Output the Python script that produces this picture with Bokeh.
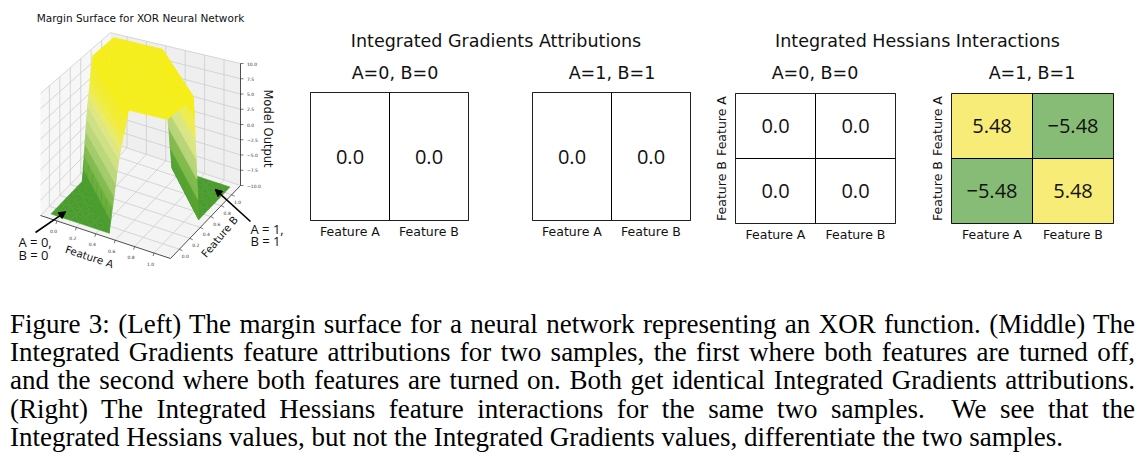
import numpy as np
from bokeh.plotting import figure
from bokeh.models import (ColumnDataSource, Range1d, FactorRange, Div, Arrow,
                          NormalHead, LinearColorMapper)
from bokeh.layouts import row, column
from bokeh.transform import transform
from bokeh.core.properties import value
from bokeh.embed import file_html
from bokeh.resources import INLINE

# ---------------------------------------------------------------- data
# margin surface of the XOR network
grid_a = [-0.1, 0.0, 0.1, 0.2, 0.3, 0.4, 0.5, 0.6, 0.7, 0.8, 0.9, 1.0, 1.1]
grid_b = [-0.1, 0.0, 0.1, 0.2, 0.3, 0.4, 0.5, 0.6, 0.7, 0.8, 0.9, 1.0, 1.1]
margin_z = [
    [-10, -10, -10, -10, -10, -10, -10,   2,  10,  10,  10,  10,  10],
    [-10, -10, -10, -10, -10, -10,   2,  10,  10,  10,  10,  10,  10],
    [-10, -10, -10, -10, -10,   2,  10,  10,  10,  10,  10,  10,  10],
    [-10, -10, -10, -10,   2,  10,  10,  10,  10,  10,  10,  10,  10],
    [-10, -10, -10,   2,  10,  10,  10,  10,  10,  10,  10,  10,  10],
    [-10, -10,   2,  10,  10,  10,  10,  10,  10,  10,  10,  10,  10],
    [-10,   2,  10,  10,  10,  10,  10,  10,  10,  10,  10,  10, -10],
    [  2,  10,  10,  10,  10,  10,  10,  10,  10,  10,  10, -10, -10],
    [ 10,  10,  10,  10,  10,  10,  10,  10,  10,  10, -10, -10, -10],
    [ 10,  10,  10,  10,  10,  10,  10,  10,  10, -10, -10, -10, -10],
    [ 10,  10,  10,  10,  10,  10,  10,  10, -10, -10, -10, -10, -10],
    [ 10,  10,  10,  10,  10,  10,  10, -10, -10, -10, -10, -10, -10],
    [ 10,  10,  10,  10,  10,  10, -10, -10, -10, -10, -10, -10, -10],
]
ab_ticks = [0.0, 0.2, 0.4, 0.6, 0.8, 1.0]
ab_tick_labels = ["0.0", "0.2", "0.4", "0.6", "0.8", "1.0"]
z_ticks = [-10.0, -7.5, -5.0, -2.5, 0.0, 2.5, 5.0, 7.5, 10.0]
z_tick_labels = ["\u221210.0", "\u22127.5", "\u22125.0", "\u22122.5", "0.0",
                 "2.5", "5.0", "7.5", "10.0"]
corner_00 = (0.0, 0.0, -10.0)
corner_11 = (1.0, 1.0, -10.0)

features = ["Feature A", "Feature B"]
ig_a0b0 = [0.0, 0.0]
ig_a1b1 = [0.0, 0.0]
ih_a0b0 = [[0.0, 0.0], [0.0, 0.0]]
ih_a1b1 = [[5.48, -5.48], [-5.48, 5.48]]

caption_lines = [
    "Figure 3: (Left) The margin surface for a neural network representing an XOR function. (Middle) The",
    "Integrated Gradients feature attributions for two samples, the first where both features are turned off,",
    "and the second where both features are turned on. Both get identical Integrated Gradients attributions.",
    "(Right) The Integrated Hessians feature interactions for the same two samples.&nbsp; We see that the",
    "Integrated Hessians values, but not the Integrated Gradients values, differentiate the two samples.",
]

# ---------------------------------------------------------------- 3-D view
A0, A1 = -0.17, 1.17
B0, B1 = -0.17, 1.17
Z0, Z1 = -10.0, 10.0
ORIGIN = (32.0, 95.0)
VEC_A = (130.0, -43.0)
VEC_B = (70.0, 73.0)
Z_SPAN = 122.0
PERSP = 0.1


def uvw(a, b, z):
    a = np.asarray(a, float); b = np.asarray(b, float); z = np.asarray(z, float)
    return (a - A0) / (A1 - A0), (b - B0) / (B1 - B0), (z - Z0) / (Z1 - Z0)


def proj(a, b, z):
    u, v, w = uvw(a, b, z)
    depth = ((1 - u) + v) / 2
    x = ORIGIN[0] + u * VEC_A[0] + v * VEC_B[0]
    y = ORIGIN[1] + u * VEC_A[1] + v * VEC_B[1] + w * Z_SPAN * (1 + PERSP * (1 - 2 * depth))
    return x, y


def closeness(a, b, z):
    u, v, w = uvw(a, b, z)
    return 0.433 * u - 0.75 * v + 0.375 * w


F3W, F3H = 290, 302
p3 = figure(width=F3W, height=F3H, x_range=Range1d(0, F3W), y_range=Range1d(0, F3H),
            min_border=0, toolbar_location=None, output_backend="svg",
            x_axis_location=None, y_axis_location=None, outline_line_color=None, margin=0)
p3.grid.visible = False

# panes
panes = [
    ([A0, A1, A1, A0], [B0, B0, B1, B1], [Z0, Z0, Z0, Z0], "#f4f4f4"),
    ([A0, A0, A0, A0], [B0, B1, B1, B0], [Z0, Z0, Z1, Z1], "#f7f7f7"),
    ([A0, A1, A1, A0], [B1, B1, B1, B1], [Z0, Z0, Z1, Z1], "#efefef"),
]
pxs, pys, pcs = [], [], []
for pa, pb, pz, pc in panes:
    x, y = proj(pa, pb, pz)
    pxs.append(list(x)); pys.append(list(y)); pcs.append(pc)
p3.patches(xs="xs", ys="ys", fill_color="c", line_color=None,
           source=ColumnDataSource(dict(xs=pxs, ys=pys, c=pcs)))

# grid lines
gx, gy = [], []
for t in ab_ticks:
    x, y = proj([t, t, t], [B0, B1, B1], [Z0, Z0, Z1]); gx.append(list(x)); gy.append(list(y))
    x, y = proj([A1, A0, A0], [t, t, t], [Z0, Z0, Z1]); gx.append(list(x)); gy.append(list(y))
for t in z_ticks:
    x, y = proj([A0, A0, A1], [B0, B1, B1], [t, t, t]); gx.append(list(x)); gy.append(list(y))
p3.multi_line(xs=gx, ys=gy, line_color="#cdcdcd", line_width=0.8)

# surface: each grid cell split into two planar triangles
Ag = np.array(grid_a); Bg = np.array(grid_b); Zg = np.array(margin_z, float)
SURF_PAL = ["#4b9c2e", "#5aa535", "#6cb03e", "#86bd52", "#a3cb6a", "#bcd77c",
            "#cfe084", "#dde784", "#e8ea6c", "#efec4a", "#f3ed2e", "#f5ee1a"]
surf_map = LinearColorMapper(palette=SURF_PAL, low=Z0, high=Z1)
NSUB = 6
sx, sy, sz, sc = [], [], [], []


def add_tri(P):
    P = np.asarray(P, float)
    zs = P[:, 2]
    n = 1 if np.ptp(zs) == 0 else NSUB
    for r in range(n):
        for c in range(n - r):
            tris = [[(r, c), (r + 1, c), (r, c + 1)]]
            if c + r + 1 < n:
                tris.append([(r + 1, c), (r + 1, c + 1), (r, c + 1)])
            for tri in tris:
                pts = []
                for (rr, cc) in tri:
                    l1, l2 = rr / n, cc / n
                    pts.append(P[0] * (1 - l1 - l2) + P[1] * l1 + P[2] * l2)
                pts = np.array(pts)
                x, y = proj(pts[:, 0], pts[:, 1], pts[:, 2])
                m = pts.mean(axis=0)
                sx.append(list(x)); sy.append(list(y)); sz.append(float(m[2]))
                sc.append(float(closeness(m[0], m[1], m[2])))


for i in range(len(Ag) - 1):
    for j in range(len(Bg) - 1):
        p00 = (Ag[i], Bg[j], Zg[i, j])
        p10 = (Ag[i + 1], Bg[j], Zg[i + 1, j])
        p01 = (Ag[i], Bg[j + 1], Zg[i, j + 1])
        p11 = (Ag[i + 1], Bg[j + 1], Zg[i + 1, j + 1])
        add_tri([p00, p10, p01])
        add_tri([p10, p11, p01])

order = np.argsort(sc)
surf_src = ColumnDataSource(dict(xs=[sx[k] for k in order], ys=[sy[k] for k in order],
                                 z=[sz[k] for k in order]))
p3.patches(xs="xs", ys="ys", source=surf_src, fill_color=transform("z", surf_map),
           fill_alpha=1.0, line_color=transform("z", surf_map), line_alpha=1.0, line_width=0.5)

# axis lines
ax_x, ax_y = [], []
for la, lb, lz in [([A0, A1], [B0, B0], [Z0, Z0]), ([A1, A1], [B0, B1], [Z0, Z0]),
                   ([A1, A1], [B1, B1], [Z0, Z1])]:
    x, y = proj(la, lb, lz); ax_x.append(list(x)); ax_y.append(list(y))
p3.multi_line(xs=ax_x, ys=ax_y, line_color="#222222", line_width=0.8)

# ticks and tick labels
tk_x, tk_y = [], []
ta = np.array(ab_ticks)
xa, ya = proj(ta, np.full_like(ta, B0), np.full_like(ta, Z0))
xb, yb = proj(np.full_like(ta, A1), ta, np.full_like(ta, Z0))
tz = np.array(z_ticks)
xz, yz = proj(np.full_like(tz, A1), np.full_like(tz, B1), tz)
for x, y in zip(xa, ya):
    tk_x.append([x, x - 1.0]); tk_y.append([y, y - 3.0])
for x, y in zip(xb, yb):
    tk_x.append([x, x + 3.0]); tk_y.append([y, y - 1.5])
for x, y in zip(xz, yz):
    tk_x.append([x, x + 3.0]); tk_y.append([y, y])
p3.multi_line(xs=tk_x, ys=tk_y, line_color="#222222", line_width=0.6)

tick_font = dict(text_font=value("DejaVu Sans"), text_font_size=value("4.5px"),
                 text_color="#333333", text_baseline="middle")
p3.text(x=list(xa - 3.5), y=list(ya - 10.5), text=ab_tick_labels, text_align="center", **tick_font)
p3.text(x=list(xb + 6.0), y=list(yb - 7.0), text=ab_tick_labels, text_align="center", **tick_font)
p3.text(x=list(xz + 6.5), y=list(yz), text=z_tick_labels, text_align="left", **tick_font)

# axis labels
lbl = dict(text_font=value("DejaVu Sans"), text_font_size=value("10.5px"),
           text_color="#111111", text_align="center", text_baseline="middle")
xla, yla = proj(0.5, B0, Z0)
p3.text(x=[float(xla) - 16], y=[float(yla) - 19.5], text=["Feature A"], angle=-0.32, **lbl)
xlb, ylb = proj(A1, 0.5, Z0)
p3.text(x=[float(xlb) + 14], y=[float(ylb) - 14.5], text=["Feature B"], angle=0.87, **lbl)
xlz, ylz = proj(A1, B1, 0.0)
p3.text(x=[float(xlz) + 27.5], y=[float(ylz) - 4], text=["Model Output"], angle=-np.pi / 2,
        text_font=value("DejaVu Sans"), text_font_size=value("11.5px"), text_color="#111111",
        text_align="center", text_baseline="middle")
p3.text(x=[132], y=[293], text=["Margin Surface for XOR Neural Network"],
        text_font=value("DejaVu Sans"), text_font_size=value("10.5px"), text_color="#111111",
        text_align="center", text_baseline="middle")

# annotations
ann = dict(text_font=value("Open Sans"), text_font_size=value("13px"), text_color="#111111",
           text_align="left", text_baseline="middle")
p3.text(x=[10, 10], y=[69, 56], text=["A = 0,", "B = 0"], **ann)
p3.text(x=[242, 242], y=[82, 69.5], text=["A = 1,", "B = 1"], **ann)
e0x, e0y = proj(*corner_00)
e1x, e1y = proj(*corner_11)
p3.add_layout(Arrow(end=NormalHead(size=7, fill_color="black", line_color="black"),
                    x_start=27, y_start=78, x_end=float(e0x), y_end=float(e0y),
                    line_color="black", line_width=1.6))
p3.add_layout(Arrow(end=NormalHead(size=7, fill_color="black", line_color="black"),
                    x_start=242, y_start=89, x_end=float(e1x), y_end=float(e1y),
                    line_color="black", line_width=1.6))

# ---------------------------------------------------------------- heat maps
YELLOW = "#f8ec78"
GREEN = "#86bc75"
vmax = max(abs(v) for r in (ih_a0b0 + ih_a1b1) for v in r)
hm_map = LinearColorMapper(palette=[GREEN, "#ffffff", YELLOW], low=-vmax, high=vmax)


def fmt(v):
    return ("\u2212" if v < 0 else "") + str(abs(v))


def heatmap(xf, yf, vals, rows, fw, fh, bl, br, bt, bb, show_y):
    src = ColumnDataSource(dict(x=xf, y=yf, v=vals, label=[fmt(v) for v in vals]))
    p = figure(x_range=FactorRange(*features), y_range=FactorRange(*rows),
               frame_width=fw, frame_height=fh, min_border_left=bl, min_border_right=br,
               min_border_top=bt, min_border_bottom=bb, toolbar_location=None,
               output_backend="svg", y_axis_location="left" if show_y else None,
               outline_line_color="black", outline_line_width=1, margin=0)
    p.rect(x="x", y="y", width=1, height=1, source=src, fill_color=transform("v", hm_map),
           line_color="black", line_width=1)
    p.text(x="x", y="y", text="label", source=src, text_align="center", text_baseline="middle",
           text_font=value("Open Sans"), text_font_size=value("20px"), text_color="#111111")
    p.grid.visible = False
    for ax in p.axis:
        ax.axis_line_color = None
        ax.major_tick_line_color = None
        ax.minor_tick_line_color = None
        ax.major_tick_out = 0
        ax.major_tick_in = 0
        ax.minor_tick_out = 0
        ax.major_label_text_font = "DejaVu Sans"
        ax.major_label_text_font_size = "12.5px"
        ax.major_label_text_color = "#111111"
    p.xaxis.major_label_standoff = 3
    if show_y:
        p.yaxis.major_label_orientation = "vertical"
        p.yaxis.major_label_standoff = 7
    return p


def ig_fig(vals, bl, br):
    return heatmap(features, ["s", "s"], vals, ["s"], 158, 128, bl, br, 2, 90, False)


def ih_fig(mat, fw, bl, br):
    xf, yf, vals = [], [], []
    for r, rn in enumerate(features):
        for c, cn in enumerate(features):
            xf.append(cn); yf.append(rn); vals.append(mat[r][c])
    return heatmap(xf, yf, vals, ["Feature B", "Feature A"], fw, 130, bl, br, 3, 87, True)


ig1 = ig_fig(ig_a0b0, 12, 32)
ig2 = ig_fig(ig_a1b1, 32, 20)
ih1 = ih_fig(ih_a0b0, 160, 25, 20)
ih2 = ih_fig(ih_a1b1, 162, 36, 26)

SANS = "font-family:'DejaVu Sans'; color:#111111;"


def group_title(text, w, shift):
    return Div(text=f"<div style=\"{SANS} font-size:17.5px; line-height:20px; padding-top:23px;"
                    f" width:{w}px; text-align:center; position:relative; left:{shift}px;\">{text}</div>",
               width=w, height=46, margin=0)


def sub_title(text, w, left, fw, shift):
    return Div(text=f"<div style=\"{SANS} font-size:17.5px; line-height:20px; padding-top:9px;"
                    f" margin-left:{left}px; width:{fw}px; text-align:center; position:relative;"
                    f" left:{shift}px;\">{text}</div>",
               width=w, height=36, margin=0)


ig_group = column(
    group_title("Integrated Gradients Attributions", 412, -8),
    row(column(sub_title("A=0, B=0", 202, 12, 158, 6), ig1, spacing=0),
        column(sub_title("A=1, B=1", 210, 32, 158, 1), ig2, spacing=0), spacing=0),
    spacing=0)
ih_group = column(
    group_title("Integrated Hessians Interactions", 429, -7),
    row(column(sub_title("A=0, B=0", 205, 25, 160, 0), ih1, spacing=0),
        column(sub_title("A=1, B=1", 224, 36, 162, 0), ih2, spacing=0), spacing=0),
    spacing=0)

cap_html = ("<div style=\"font-family:'Liberation Serif'; font-size:27px; line-height:28.2px;"
            " color:#000000; width:1125px; margin-left:2px;\">")
for k, ln in enumerate(caption_lines):
    if k < len(caption_lines) - 1:
        cap_html += f"<div style=\"text-align:justify; text-align-last:justify;\">{ln}</div>"
    else:
        cap_html += f"<div style=\"text-align:left;\">{ln}</div>"
cap_html += "</div>"
caption = Div(text=cap_html, width=1131, height=150, margin=0)

page = column(row(p3, ig_group, ih_group, spacing=0), caption, spacing=0, margin=(8, 8, 8, 8))

with open("out.html", "w") as f:
    f.write(file_html(page, INLINE))
